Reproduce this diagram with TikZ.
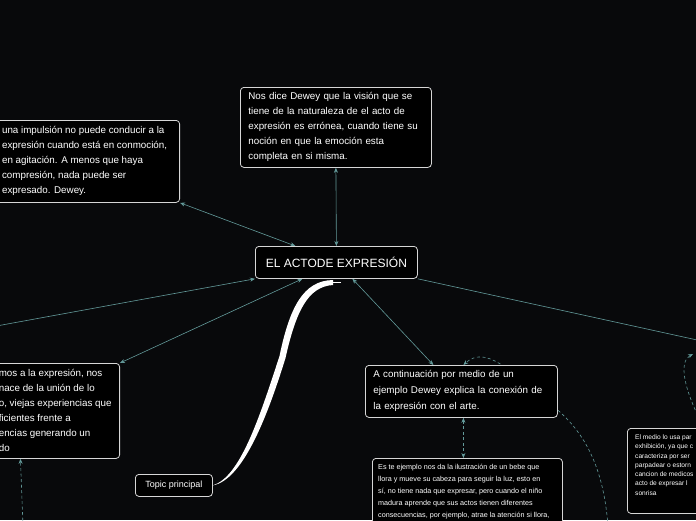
\documentclass[tikz,border=0pt]{standalone}
\usepackage{fontspec}
\setmainfont{Liberation Sans}
\usetikzlibrary{arrows.meta}
\pgfdeclarelayer{back}
\pgfsetlayers{back,main}
\definecolor{bgc}{HTML}{08090B}
\definecolor{linkc}{HTML}{639A9A}
\definecolor{edgec}{HTML}{D6D6D6}
\begin{document}
\begin{tikzpicture}[x=1pt,y=-1pt,
  >={Stealth[length=5pt,width=4pt]},
  box/.style={draw=edgec, line width=0.8pt, fill=black, rounded corners=3.5pt,
    inner xsep=8pt, inner ysep=0pt, anchor=north west, align=left, text=white},
  bigtext/.style={font=\fontsize{9.8}{15}\selectfont},
  smalltext/.style={font=\fontsize{7.2}{12}\selectfont, text=white, inner sep=0pt, anchor=north west, align=left},
  link/.style={draw=linkc, line width=0.6pt},
  dlink/.style={link, dash pattern=on 3pt off 2.5pt}]
\path[use as bounding box] (0,0) rectangle (696,520);

% boxes
\node[box, bigtext, anchor=north east, minimum width=190pt, minimum height=82pt] (lt) at (180,120)
 {una impulsión no puede conducir a la\\expresión cuando está en conmoción,\\en agitación. A menos que haya\\compresión, nada puede ser\\expresado. Dewey.};
\node[box, bigtext, minimum width=191pt, minimum height=80pt, text width=175pt] (tm) at (240,87)
 {Nos dice Dewey que la visión que se\\tiene de la naturaleza de el acto de\\expresión es errónea, cuando tiene su\\noción en que la emoción esta\\completa en si misma.};
\node[box, minimum width=162pt, minimum height=32pt, align=center, font=\fontsize{12}{14}\selectfont] (c) at (255,246)
 {EL ACTODE EXPRESIÓN};
\node[box, bigtext, anchor=north east, minimum width=127pt, minimum height=95pt] (lm) at (120,363)
 {mos a la expresión, nos\\nace de la unión de lo\\o, viejas experiencias que\\ficientes frente a\\encias generando un\\do};
\node[box, font=\fontsize{9.8}{16}\selectfont, minimum width=192pt, minimum height=52pt, text width=176pt] (rm) at (365,365)
 {A continuación por medio de un\\ejemplo Dewey explica la conexión de\\la expresión con el arte.};
\node[box, minimum width=190pt, minimum height=90pt] (bb) at (372,458) {};
\node[smalltext] (bbt) at (378,463.5)
 {Es te ejemplo nos da la ilustración de un bebe que\\llora y mueve su cabeza para seguir la luz, esto en\\sí, no tiene nada que expresar, pero cuando el niño\\madura aprende que sus actos tienen diferentes\\consecuencias, por ejemplo, atrae la atención si llora,};
\node[box, minimum width=100pt, minimum height=85pt] (rb) at (627,428) {};
\node[smalltext, font=\fontsize{6.6}{9.3}\selectfont] (rbt) at (635,434.5)
 {El medio lo usa par\\exhibición, ya que c\\caracteriza por ser\\parpadear o estorn\\cancion de medicos\\acto de expresar l\\sonrisa};
\node[box, minimum width=77pt, minimum height=22pt, align=center, inner xsep=2pt, font=\fontsize{9}{11}\selectfont] (topic) at (135,474)
 {Topic principal};

% free ends of connectors that leave the picture
\coordinate (offL) at (-20,329);
\coordinate (offR) at (720,345);
\coordinate (offRB) at (700,420);
\coordinate (offRT) at (693,354);
\coordinate (offB2) at (608,526);
\coordinate (offLB) at (23,526);

% thick main-topic curve
\fill[white] (topic.east) .. controls (240,477) and (259,419) .. (279.5,356)
  .. controls (289.5,308) and (303,280.5) .. (333,280) -- (333,285)
  .. controls (308,286.5) and (296,311) .. (285.5,358)
  .. controls (266,421) and (242,480) .. (topic.east) -- cycle;
\draw[white, line width=0.8pt] (332,282) -- (341,282);

\begin{pgfonlayer}{back}
\fill[bgc] (0,0) rectangle (696,520);
\draw[link,<->] (lt.south east) -- ([xshift=-41pt]c.north);
\draw[link,<->] (tm.south) -- (c.north);
\draw[link,->] (offL) -- (c.south west);
\draw[link,<->] (lm.north east) -- ([xshift=-34pt]c.south);
\draw[link,<->] ([xshift=16pt]c.south) -- ([xshift=-28pt]rm.north);
\draw[link] (c.south east) -- (offR);
\draw[dlink,->] (offRB) .. controls (685,390) and (678,362) .. (offRT);
\draw[dlink,->] (offB2) .. controls (603,460) and (580,425) .. (545,400)
  .. controls (510,370) and (485,345) .. ([xshift=2pt]rm.north);
\draw[dlink,<->] ([xshift=2pt]rm.south) -- ([xshift=-4pt]bb.north);
\draw[dlink,->] (offLB) -- ([xshift=30pt]lm.south west);
\end{pgfonlayer}
\end{tikzpicture}
\end{document}
